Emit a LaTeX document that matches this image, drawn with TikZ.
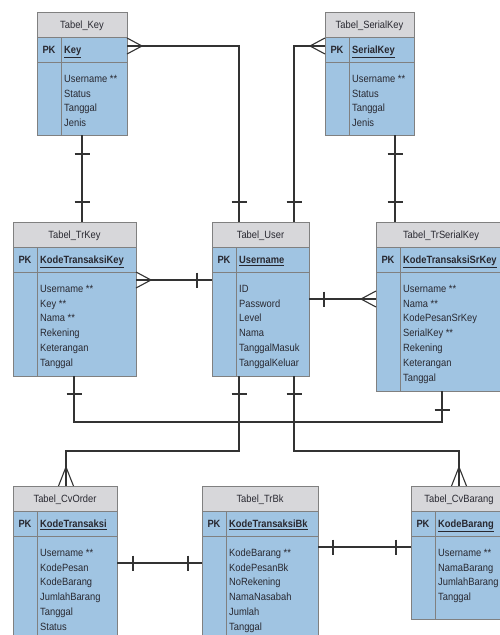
\documentclass[tikz,border=0pt]{standalone}
\usepackage{fontspec}
\setmainfont{Liberation Sans}[FakeStretch=0.89]
\usetikzlibrary{calc}
\definecolor{hdrc}{RGB}{215,215,218}
\definecolor{bodyc}{RGB}{160,196,226}
\definecolor{bordc}{RGB}{128,128,128}
\definecolor{inkc}{RGB}{40,40,48}
\tikzset{
  tbl/.style={draw=bordc, fill=bodyc, line width=0.9pt, inner sep=0pt, outer sep=0pt},
  tline/.style={draw=bordc, line width=0.9pt},
  conn/.style={line width=1.1pt, draw=black!80},
  txt/.style={font=\fontsize{10.5}{12}\selectfont, text=inkc, inner sep=0pt},
}
% name, left, top, width, height, title, key, fields
\newcommand\ertable[8]{%
  \node[tbl, minimum width=#4pt, minimum height=#5pt, anchor=north west] (#1) at (#2,#3) {};
  \fill[hdrc] ($(#1.north west)+(0.45,0.45)$) rectangle ($(#1.north east)+(-0.45,25)$);
  \draw[tline] ($(#1.north west)+(0,25)$) -- ($(#1.north east)+(0,25)$);
  \draw[tline] ($(#1.north west)+(0,50)$) -- ($(#1.north east)+(0,50)$);
  \draw[tline] ($(#1.north west)+(24,25)$) -- ($(#1.south west)+(24,0)$);
  \draw[tline] (#1.north west) rectangle (#1.south east);
  \node[txt, anchor=base] (#1-title) at ($(#1.north)+(0,16.3)$) {#6};
  \node[txt, anchor=base] (#1-pk) at ($(#1.north west)+(12,41.3)$) {\textbf{PK}};
  \node[txt, anchor=base west] (#1-key) at ($(#1.north west)+(27,41.3)$) {\textbf{\underline{#7}}};
  \foreach \f [count=\i] in {#8} {
    \node[txt, anchor=base west] (#1-f\i) at ($(#1.north west)+(27,{70.2+(\i-1)*14.8})$) {\f};
  }
}
\newcommand\crowH[2]{\draw[conn] ($(#1)+(#2*15,0)$) -- ($(#1)+(0,-8)$) ($(#1)+(#2*15,0)$) -- ($(#1)+(0,8)$);}
\newcommand\crowV[1]{\draw[conn] ($(#1)+(0,-19)$) -- ($(#1)+(-7.5,0)$) ($(#1)+(0,-19)$) -- ($(#1)+(7.5,0)$);}
\newcommand\tickH[2]{\draw[conn] ($(#1)+(#2)+(0,-7.5)$) -- ($(#1)+(#2)+(0,7.5)$);}
\newcommand\tickV[2]{\draw[conn] ($(#1)+(#2)+(-7.5,0)$) -- ($(#1)+(#2)+(7.5,0)$);}

\begin{document}
\begin{tikzpicture}[x=1pt, y=-1pt]
\useasboundingbox (0,0) rectangle (500,635);
\clip (0,0) rectangle (500,635);
\fill[white] (0,0) rectangle (500,635);

\ertable{key}{37}{12}{90}{123}{Tabel\_Key}{Key}{Username **, Status, Tanggal, Jenis}
\ertable{serial}{325}{12}{89}{123}{Tabel\_SerialKey}{SerialKey}{Username **, Status, Tanggal, Jenis}
\ertable{trkey}{13}{222}{123}{154}{Tabel\_TrKey}{KodeTransaksiKey}{Username **, Key **, Nama **, Rekening, Keterangan, Tanggal}
\ertable{user}{212}{222}{97}{154}{Tabel\_User}{Username}{ID, Password, Level, Nama, TanggalMasuk, TanggalKeluar}
\ertable{trserial}{376}{222}{130}{169}{Tabel\_TrSerialKey}{KodeTransaksiSrKey}{Username **, Nama **, KodePesanSrKey, SerialKey **, Rekening, Keterangan, Tanggal}
\ertable{cvorder}{13}{486}{104}{170}{Tabel\_CvOrder}{KodeTransaksi}{Username **, KodePesan, KodeBarang, JumlahBarang, Tanggal, Status}
\ertable{trbk}{202}{486}{116}{170}{Tabel\_TrBk}{KodeTransaksiBk}{KodeBarang **, KodePesanBk, NoRekening, NamaNasabah, Jumlah, Tanggal}
\ertable{cvbarang}{411}{486}{96}{133}{Tabel\_CvBarang}{KodeBarang}{Username **, NamaBarang, JumlahBarang, Tanggal}

% A: Key -- User
\coordinate (kA) at ($(key.north east)+(0,34)$);
\coordinate (uA) at ($(user.north west)+(27,0)$);
\draw[conn] (kA) -| (uA);
\crowH{kA}{1}
\tickV{uA}{0,-20}
% B: SerialKey -- User
\coordinate (sB) at ($(serial.north west)+(0,34)$);
\coordinate (uB) at ($(user.north east)+(-15,0)$);
\draw[conn] (sB) -| (uB);
\crowH{sB}{-1}
\tickV{uB}{0,-20}
% C: Key -- TrKey
\coordinate (kC) at ($(key.south west)+(45,0)$);
\coordinate (tC) at (kC |- trkey.north);
\draw[conn] (kC) -- (tC);
\tickV{kC}{0,19}
\tickV{tC}{0,-20}
% D: SerialKey -- TrSerialKey
\coordinate (sD) at ($(serial.south west)+(70,0)$);
\coordinate (tD) at (sD |- trserial.north);
\draw[conn] (sD) -- (tD);
\tickV{sD}{0,19}
\tickV{tD}{0,-20}
% E: TrKey -- User
\coordinate (tE) at ($(trkey.north east)+(0,58)$);
\coordinate (uE) at (tE -| user.west);
\draw[conn] (tE) -- (uE);
\crowH{tE}{1}
\tickH{uE}{-15,0}
% F: User -- TrSerialKey
\coordinate (uF) at ($(user.north east)+(0,77)$);
\coordinate (rF) at (uF -| trserial.west);
\draw[conn] (uF) -- (rF);
\tickH{uF}{15,0}
\crowH{rF}{-1}
% G: TrKey -- TrSerialKey
\coordinate (tG) at ($(trkey.south west)+(61,0)$);
\coordinate (rG) at ($(trserial.south west)+(66,0)$);
\draw[conn] (tG) -- ++(0,46) -| (rG);
\tickV{tG}{0,18}
\tickV{rG}{0,19}
% H: User -- CvOrder
\coordinate (uH) at ($(user.south west)+(27,0)$);
\coordinate (cH) at ($(cvorder.north west)+(53,0)$);
\draw[conn] (uH) -- ++(0,75) -| (cH);
\tickV{uH}{0,18}
\crowV{cH}
% I: User -- CvBarang
\coordinate (uI) at ($(user.south east)+(-15,0)$);
\coordinate (bI) at ($(cvbarang.north west)+(48,0)$);
\draw[conn] (uI) -- ++(0,75) -| (bI);
\tickV{uI}{0,18}
\crowV{bI}
% J: CvOrder -- TrBk
\coordinate (cJ) at ($(cvorder.north east)+(0,77)$);
\coordinate (bJ) at (cJ -| trbk.west);
\draw[conn] (cJ) -- (bJ);
\tickH{cJ}{16,0}
\tickH{bJ}{-14,0}
% K: TrBk -- CvBarang
\coordinate (bK) at ($(trbk.north east)+(0,61)$);
\coordinate (cK) at (bK -| cvbarang.west);
\draw[conn] (bK) -- (cK);
\tickH{bK}{15,0}
\tickH{cK}{-15,0}
\end{tikzpicture}
\end{document}
